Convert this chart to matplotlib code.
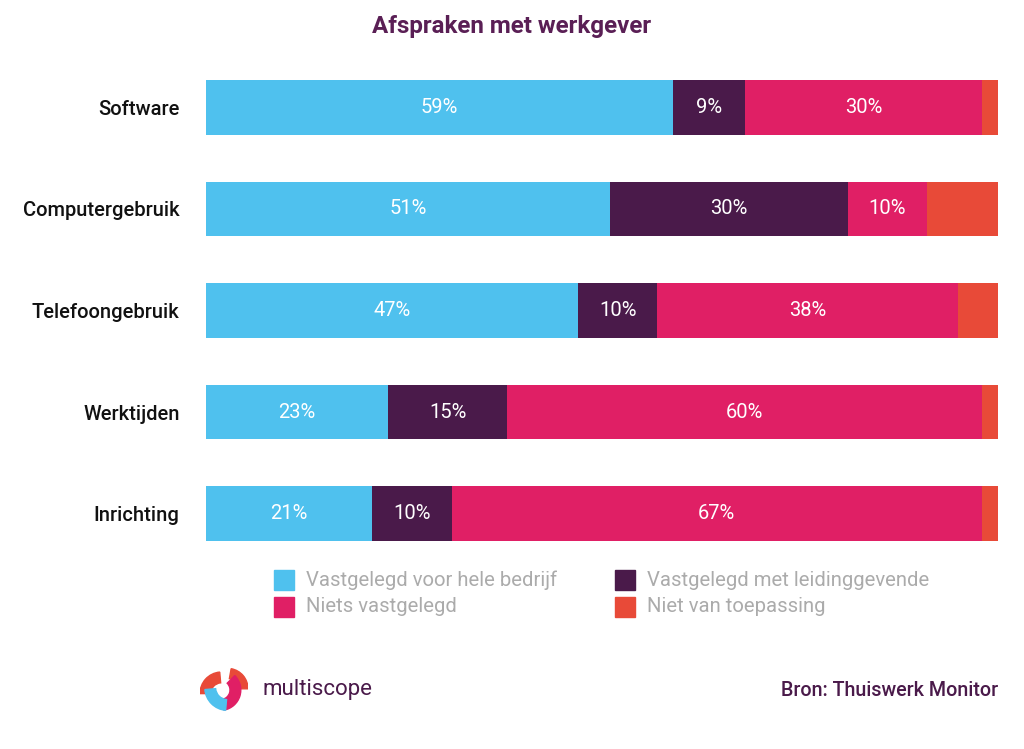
import matplotlib
matplotlib.use("Agg")
import matplotlib.pyplot as plt
from matplotlib.patches import Rectangle, Wedge
import numpy as np

plt.rcParams['font.family'] = ['Roboto', 'DejaVu Sans']

categories = ["Software", "Computergebruik", "Telefoongebruik", "Werktijden", "Inrichting"]
series_names = ["Vastgelegd voor hele bedrijf", "Vastgelegd met leidinggevende",
                "Niets vastgelegd", "Niet van toepassing"]
hele_bedrijf = [59, 51, 47, 23, 21]
leidinggevende = [9, 30, 10, 15, 10]
niets = [30, 10, 38, 60, 67]
niet_toepassing = [2, 9, 5, 2, 2]
colors = ["#4FC1EE", "#4A1A4A", "#E01F65", "#E84A38"]
title = "Afspraken met werkgever"
source = "Bron: Thuiswerk Monitor"
brand = "multiscope"

W, H = 1024, 749
fig = plt.figure(figsize=(W / 100, H / 100), dpi=100)
ax = fig.add_axes([206 / W, 1 - 541 / H, 792 / W, 461 / H])

series = [hele_bedrijf, leidinggevende, niets, niet_toepassing]
y = np.arange(len(categories))
left = np.zeros(len(categories))
for vals, col, name in zip(series, colors, series_names):
    vals = np.array(vals, dtype=float)
    ax.barh(y, vals, left=left, height=0.54, color=col, label=name, linewidth=0)
    for yi, l, v in zip(y, left, vals):
        if v >= 8 and col != colors[3]:
            ax.text(l + v / 2, yi, f"{int(v)}%", ha="center", va="center",
                    color="white", fontsize=14.5, fontweight="normal")
    left += vals

ax.set_xlim(0, 100)
ax.set_ylim(len(categories) - 1 + 0.27, -0.27)
ax.set_yticks(y)
ax.set_yticklabels(categories, fontsize=14.5, fontweight="medium", color="#111111")
ax.tick_params(axis="y", length=0, pad=19)
ax.set_xticks([])
for s in ax.spines.values():
    s.set_visible(False)

fig.text(512 / W, 1 - 27 / H, title, ha="center", va="center",
         fontsize=17.4, fontweight="bold", color="#5A1F55")

# legend (manual)
leg_items = [(274, 580, 0), (615, 580, 1), (274, 607, 2), (615, 607, 3)]
for lx, ly, i in leg_items:
    fig.patches.append(Rectangle((lx / W, 1 - (ly + 10) / H), 20 / W, 20 / H,
                                 transform=fig.transFigure, color=colors[i]))
    fig.text((lx + 32) / W, 1 - ly / H, series_names[i], ha="left", va="center",
             fontsize=14.6, color="#ABABAB")

# logo
logo_ax = fig.add_axes([200 / W, 1 - 714 / H, 48 / W, 48 / H])
logo_ax.set_xlim(-1, 1)
logo_ax.set_ylim(-1, 1)
logo_ax.axis("off")
logo_ax.add_patch(Wedge((-0.1, -0.15), 0.9, 95, 180, width=0.45, color="#E84A38"))
logo_ax.add_patch(Wedge((0.15, 0.05), 0.85, 0, 80, width=0.42, color="#E84A38"))
logo_ax.add_patch(Wedge((-0.15, 0.0), 0.85, -80, 45, width=0.45, color="#E01F65"))
logo_ax.add_patch(Wedge((0.15, 0.1), 0.95, 185, 265, width=0.45, color="#4FC1EE"))
fig.text(262 / W, 1 - 690 / H, brand, ha="left", va="center",
         fontsize=16, color="#4A1A4A")

fig.text(998 / W, 1 - 690 / H, source, ha="right", va="center",
         fontsize=14.2, fontweight="medium", color="#4A1A4A")

fig.savefig("out.png", dpi=100)
